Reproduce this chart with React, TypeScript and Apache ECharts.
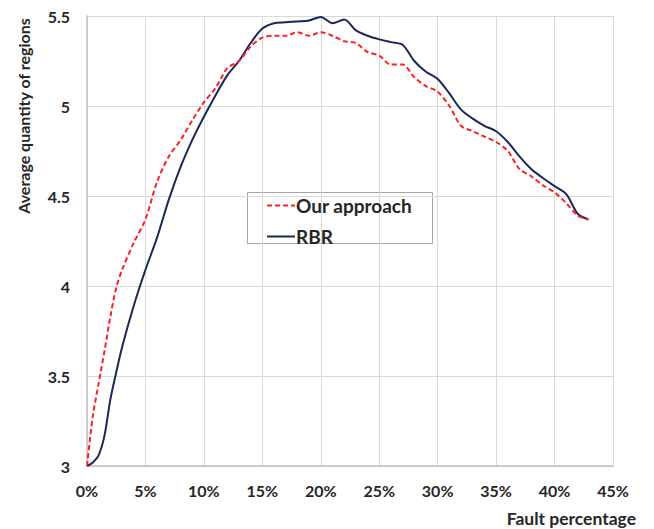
import React, { useEffect, useRef } from "react";
import * as echarts from "echarts";

const faultPct = [0, 0.5, 1, 1.5, 2, 2.5, 3, 4, 5, 6, 7, 8, 9, 10, 11, 12, 13, 14, 15, 16, 17, 18, 19, 20, 21, 22, 23, 24, 25, 26, 27, 28, 29, 30, 31, 32, 33, 34, 35, 36, 37, 38, 39, 40, 41, 42, 42.9];
const ourApproach = [3.0, 3.28, 3.46, 3.64, 3.83, 3.99, 4.09, 4.24, 4.37, 4.58, 4.72, 4.81, 4.92, 5.02, 5.1, 5.21, 5.25, 5.33, 5.38, 5.39, 5.39, 5.41, 5.39, 5.41, 5.39, 5.36, 5.35, 5.3, 5.28, 5.23, 5.23, 5.16, 5.11, 5.08, 5.0, 4.89, 4.86, 4.83, 4.8, 4.75, 4.65, 4.61, 4.56, 4.52, 4.46, 4.39, 4.37];
const rbr = [3.0, 3.02, 3.06, 3.17, 3.37, 3.52, 3.66, 3.89, 4.09, 4.27, 4.48, 4.66, 4.81, 4.94, 5.06, 5.17, 5.25, 5.35, 5.43, 5.46, 5.465, 5.47, 5.475, 5.495, 5.46, 5.48, 5.42, 5.39, 5.37, 5.355, 5.34, 5.25, 5.19, 5.15, 5.07, 4.98, 4.93, 4.89, 4.86, 4.8, 4.72, 4.65, 4.6, 4.555, 4.51, 4.4, 4.37];
const seriesNames = ["Our approach", "RBR"];
const xTitle = "Fault percentage";
const yTitle = "Average quantity of regions";

const FONT = "Lato, 'Open Sans', sans-serif";

export default function App() {
  const ref = useRef<HTMLDivElement>(null);
  useEffect(() => {
    if (!ref.current) return;
    const chart = echarts.init(ref.current, undefined, { renderer: "svg" });
    chart.setOption({
      animation: false,
      backgroundColor: "#ffffff",
      grid: { left: 87, right: 41, top: 16, bottom: 63 },
      xAxis: {
        type: "value",
        min: 0,
        max: 45,
        interval: 5,
        axisLine: { show: true, lineStyle: { color: "#bfbfbf", width: 1.5 } },
        axisTick: { show: false },
        splitLine: { show: true, lineStyle: { color: "#d9d9d9", width: 1 } },
        axisLabel: {
          formatter: (v: number) => `${v}%`,
          color: "#262626",
          fontFamily: FONT,
          fontWeight: "bold",
          fontSize: 16,
          margin: 16,
        },
      },
      yAxis: {
        type: "value",
        min: 3,
        max: 5.5,
        interval: 0.5,
        axisLine: { show: true, lineStyle: { color: "#bfbfbf", width: 1.5 } },
        axisTick: { show: false },
        splitLine: { show: true, lineStyle: { color: "#d9d9d9", width: 1 } },
        axisLabel: {
          color: "#262626",
          fontFamily: FONT,
          fontWeight: "bold",
          fontSize: 16,
          margin: 17,
        },
      },
      legend: {
        show: true,
        orient: "vertical",
        left: 266,
        top: 196,
        itemWidth: 28,
        itemHeight: 14,
        itemGap: 12,
        padding: 0,
        data: seriesNames,
        itemStyle: { opacity: 0 },
        textStyle: {
          color: "#262626",
          fontFamily: FONT,
          fontWeight: "bold",
          fontSize: 19,
          padding: [0, 0, 0, -4],
        },
      },
      graphic: [
        {
          type: "rect",
          z: -1,
          left: 247,
          top: 192,
          shape: { width: 185, height: 51 },
          style: { fill: "#ffffff", stroke: "#a6a6a6", lineWidth: 1 },
        },
        {
          type: "text",
          x: 23,
          y: 116,
          rotation: Math.PI / 2,
          style: {
            text: yTitle,
            fill: "#262626",
            font: `bold 16px ${FONT}`,
            align: "center",
            verticalAlign: "middle",
          },
        },
        {
          type: "text",
          x: 636,
          y: 518,
          style: {
            text: xTitle,
            fill: "#262626",
            font: `bold 17.5px ${FONT}`,
            align: "right",
            verticalAlign: "middle",
          },
        },
      ],
      series: [
        {
          name: seriesNames[0],
          type: "line",
          data: faultPct.map((x, i) => [x, ourApproach[i]]),
          smooth: 0.3,
          showSymbol: false,
          symbol: "none",
          itemStyle: { color: "#ff1f1f" },
          lineStyle: { color: "#ff1f1f", width: 2, type: [5, 3] },
          z: 3,
        },
        {
          name: seriesNames[1],
          type: "line",
          data: faultPct.map((x, i) => [x, rbr[i]]),
          smooth: 0.3,
          showSymbol: false,
          symbol: "none",
          itemStyle: { color: "#1c2759" },
          lineStyle: { color: "#1c2759", width: 2 },
          z: 2,
        },
      ],
    });
    return () => chart.dispose();
  }, []);
  return <div ref={ref} style={{ width: 654, height: 529, position: "absolute", left: 0, top: 0 }} />;
}
